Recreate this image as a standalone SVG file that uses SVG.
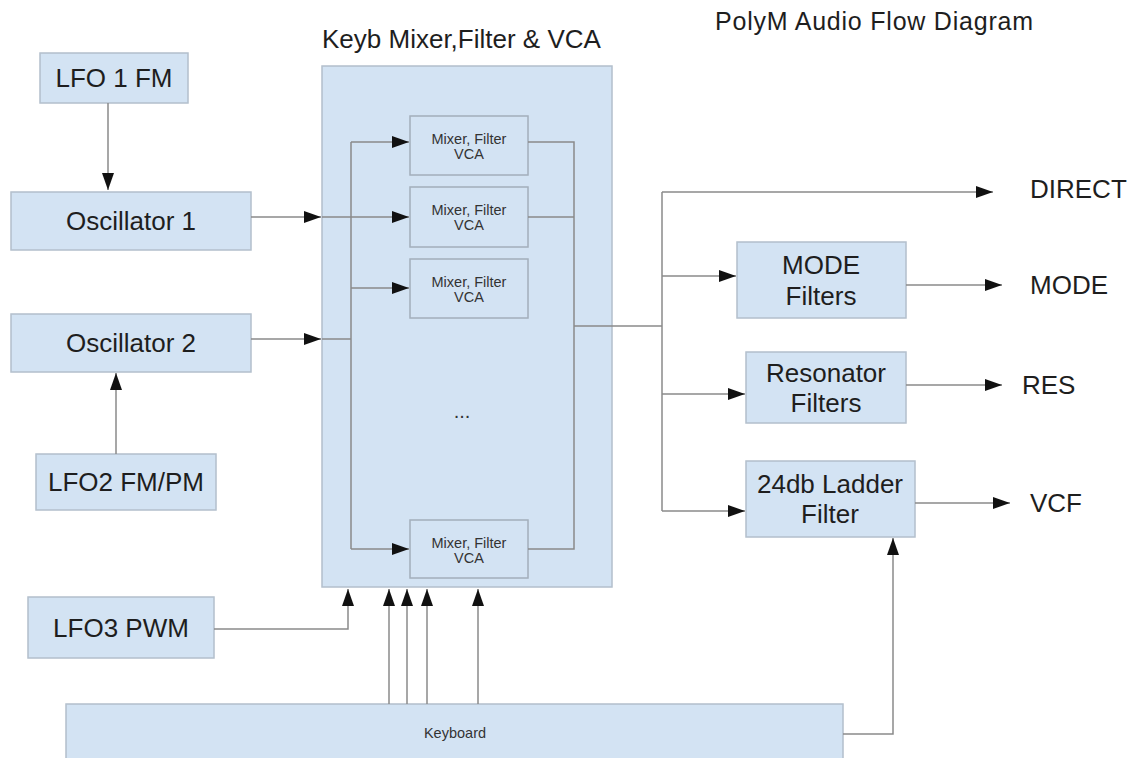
<svg xmlns="http://www.w3.org/2000/svg" width="1135" height="758" viewBox="0 0 1135 758">
<style>
.box{fill:#d3e3f3;stroke:#b3bfcc;stroke-width:1.5}
.inner{fill:#d3e3f3;stroke:#a3aebb;stroke-width:1.5}
.t{font-family:"Liberation Sans",Arial,sans-serif;font-size:26px;fill:#1e1e1e;text-anchor:middle}
.s{font-family:"Liberation Sans",Arial,sans-serif;font-size:14.5px;fill:#333;text-anchor:middle}
.lbl{font-family:"Liberation Sans",Arial,sans-serif;font-size:26px;fill:#1e1e1e}
.c{fill:none;stroke:#8a8a8a;stroke-width:1.5}
</style>
<defs>
<marker id="ah" markerUnits="userSpaceOnUse" markerWidth="18" markerHeight="13" refX="17" refY="6.5" orient="auto">
<path d="M0,0.5 L17,6.5 L0,12.5 z" fill="#111"/>
</marker>
</defs>
<rect width="1135" height="758" fill="#fff"/>
<text class="lbl" x="322" y="48">Keyb Mixer,Filter &amp; VCA</text>
<text class="lbl" x="715" y="30" style="font-size:25px" textLength="318" lengthAdjust="spacing">PolyM Audio Flow Diagram</text>

<g id="keyb-mixer"><rect class="box" x="322" y="66" width="290" height="521"/></g>
<g id="lfo1"><rect class="box" x="40" y="53" width="148" height="50"/><text class="t" x="114" y="87">LFO 1 FM</text></g>
<g id="osc1"><rect class="box" x="11" y="192" width="240" height="58"/><text class="t" x="131" y="230">Oscillator 1</text></g>
<g id="osc2"><rect class="box" x="11" y="314" width="240" height="58"/><text class="t" x="131" y="352">Oscillator 2</text></g>
<g id="lfo2"><rect class="box" x="36" y="454" width="180" height="56"/><text class="t" x="126" y="491">LFO2 FM/PM</text></g>
<g id="lfo3"><rect class="box" x="28" y="597" width="186" height="61"/><text class="t" x="121" y="637">LFO3 PWM</text></g>
<g id="keyboard"><rect class="box" x="66" y="704" width="777" height="60"/><text class="s" x="455" y="738">Keyboard</text></g>

<g id="mix1"><rect class="inner" x="410" y="116" width="118" height="59"/><text class="s" x="469" y="144">Mixer, Filter</text><text class="s" x="469" y="159">VCA</text></g>
<g id="mix2"><rect class="inner" x="410" y="187" width="118" height="60"/><text class="s" x="469" y="215">Mixer, Filter</text><text class="s" x="469" y="230">VCA</text></g>
<g id="mix3"><rect class="inner" x="410" y="259" width="118" height="59"/><text class="s" x="469" y="287">Mixer, Filter</text><text class="s" x="469" y="302">VCA</text></g>
<g id="ellipsis"><text class="s" x="462" y="418" style="font-size:20px">...</text></g>
<g id="mix4"><rect class="inner" x="410" y="520" width="118" height="58"/><text class="s" x="469" y="548">Mixer, Filter</text><text class="s" x="469" y="563">VCA</text></g>

<g id="mode"><rect class="box" x="737" y="242" width="169" height="76"/><text class="t" x="821" y="274">MODE</text><text class="t" x="821" y="305">Filters</text></g>
<g id="resonator"><rect class="box" x="746" y="352" width="160" height="71"/><text class="t" x="826" y="382">Resonator</text><text class="t" x="826" y="412">Filters</text></g>
<g id="ladder"><rect class="box" x="746" y="461" width="169" height="76"/><text class="t" x="830" y="493">24db Ladder</text><text class="t" x="830" y="523">Filter</text></g>

<g id="outputs">
<text class="lbl" x="1030" y="198">DIRECT</text>
<text class="lbl" x="1030" y="294">MODE</text>
<text class="lbl" x="1022" y="394">RES</text>
<text class="lbl" x="1030" y="512">VCF</text>
</g>

<g id="connectors">
<path class="c" d="M108,103 V190" marker-end="url(#ah)"/>
<path class="c" d="M251,217 H321" marker-end="url(#ah)"/>
<path class="c" d="M251,339 H321" marker-end="url(#ah)"/>
<path class="c" d="M116,454 V373" marker-end="url(#ah)"/>
<path class="c" d="M322,339 H351"/>
<path class="c" d="M351,142 V549"/>
<path class="c" d="M351,142 H409" marker-end="url(#ah)"/>
<path class="c" d="M322,217 H409" marker-end="url(#ah)"/>
<path class="c" d="M351,288 H409" marker-end="url(#ah)"/>
<path class="c" d="M351,549 H409" marker-end="url(#ah)"/>
<path class="c" d="M528,142 H574 V549 H528"/>
<path class="c" d="M528,217 H574"/>
<path class="c" d="M574,326 H662"/>
<path class="c" d="M662,192 V511"/>
<path class="c" d="M662,192 H993" marker-end="url(#ah)"/>
<path class="c" d="M662,276 H736" marker-end="url(#ah)"/>
<path class="c" d="M662,394 H745" marker-end="url(#ah)"/>
<path class="c" d="M662,511 H745" marker-end="url(#ah)"/>
<path class="c" d="M906,285 H1002" marker-end="url(#ah)"/>
<path class="c" d="M906,385 H1002" marker-end="url(#ah)"/>
<path class="c" d="M915,503 H1010" marker-end="url(#ah)"/>
<path class="c" d="M214,629 H348 V589" marker-end="url(#ah)"/>
<path class="c" d="M389,704 V589" marker-end="url(#ah)"/>
<path class="c" d="M407,704 V589" marker-end="url(#ah)"/>
<path class="c" d="M427,704 V589" marker-end="url(#ah)"/>
<path class="c" d="M478,704 V589" marker-end="url(#ah)"/>
<path class="c" d="M843,734 H893 V538" marker-end="url(#ah)"/>
</g>
</svg>
